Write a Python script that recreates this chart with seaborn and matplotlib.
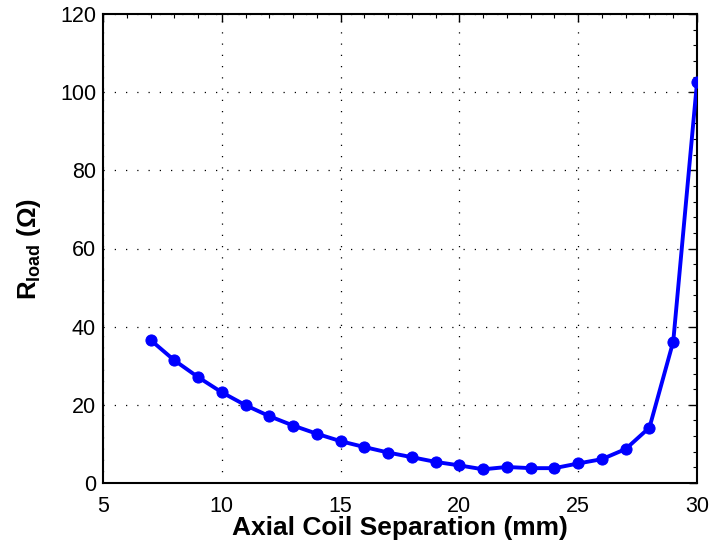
import matplotlib
matplotlib.use("Agg")
import matplotlib.pyplot as plt
import seaborn as sns
import pandas as pd
from matplotlib.ticker import MultipleLocator

separation_mm = [7, 8, 9, 10, 11, 12, 13, 14, 15, 16, 17, 18, 19, 20, 21, 22, 23, 24, 25, 26, 27, 28, 29, 30]
r_load = [36.6, 31.4, 27.1, 23.2, 19.9, 17.1, 14.7, 12.6, 10.7, 9.2, 7.8, 6.6, 5.4, 4.5, 3.5, 4.1, 3.8, 3.8, 5.0, 6.1, 8.7, 14.2, 36.2, 102.5]
x_ticks = [5, 10, 15, 20, 25, 30]
y_ticks = [0, 20, 40, 60, 80, 100, 120]

sns.set_style("white")
plt.rcParams['font.family'] = ['Liberation Sans', 'DejaVu Sans']
plt.rcParams['mathtext.fontset'] = 'custom'
plt.rcParams['mathtext.rm'] = 'Liberation Sans'
plt.rcParams['mathtext.bf'] = 'Liberation Sans:bold'
plt.rcParams['text.color'] = 'black'
plt.rcParams['axes.labelcolor'] = 'black'
plt.rcParams['xtick.color'] = 'black'
plt.rcParams['ytick.color'] = 'black'

df = pd.DataFrame({"sep": separation_mm, "r": r_load})

fig = plt.figure(figsize=(7.09, 5.45), dpi=100)
ax = fig.add_axes([103/709, 62/545, 594/709, 469/545])

sns.lineplot(data=df, x="sep", y="r", ax=ax, color=(0, 0, 1), linewidth=2.8,
             marker="o", markersize=8, markeredgecolor=(0, 0, 1), zorder=3)

ax.set_xlim(5, 30)
ax.set_ylim(0, 120)
ax.set_xticks(x_ticks)
ax.set_yticks(y_ticks)
ax.xaxis.set_minor_locator(MultipleLocator(1))
ax.yaxis.set_minor_locator(MultipleLocator(4))
ax.tick_params(which='both', direction='in', top=True, right=True, color='black',
               labelcolor='black')
ax.tick_params(which='major', length=6, width=1, labelsize=15.5)
ax.tick_params(axis='x', which='major', pad=9)
ax.tick_params(axis='y', which='major', pad=5)
ax.tick_params(which='minor', length=3, width=0.8)
ax.grid(True, which='major', linestyle=(0, (1, 8)), color='black', linewidth=0.9)
for s in ax.spines.values():
    s.set_color('black')
    s.set_linewidth(1.5)

ax.set_xlabel("Axial Coil Separation (mm)", fontsize=19, fontweight='bold',
              labelpad=0, color='black')
ax.set_ylabel(r"$\mathbf{R_{load}}$ $\mathbf{(\Omega)}$", fontsize=18.5,
              labelpad=12, color='black')

fig.savefig("out.png", dpi=100)
